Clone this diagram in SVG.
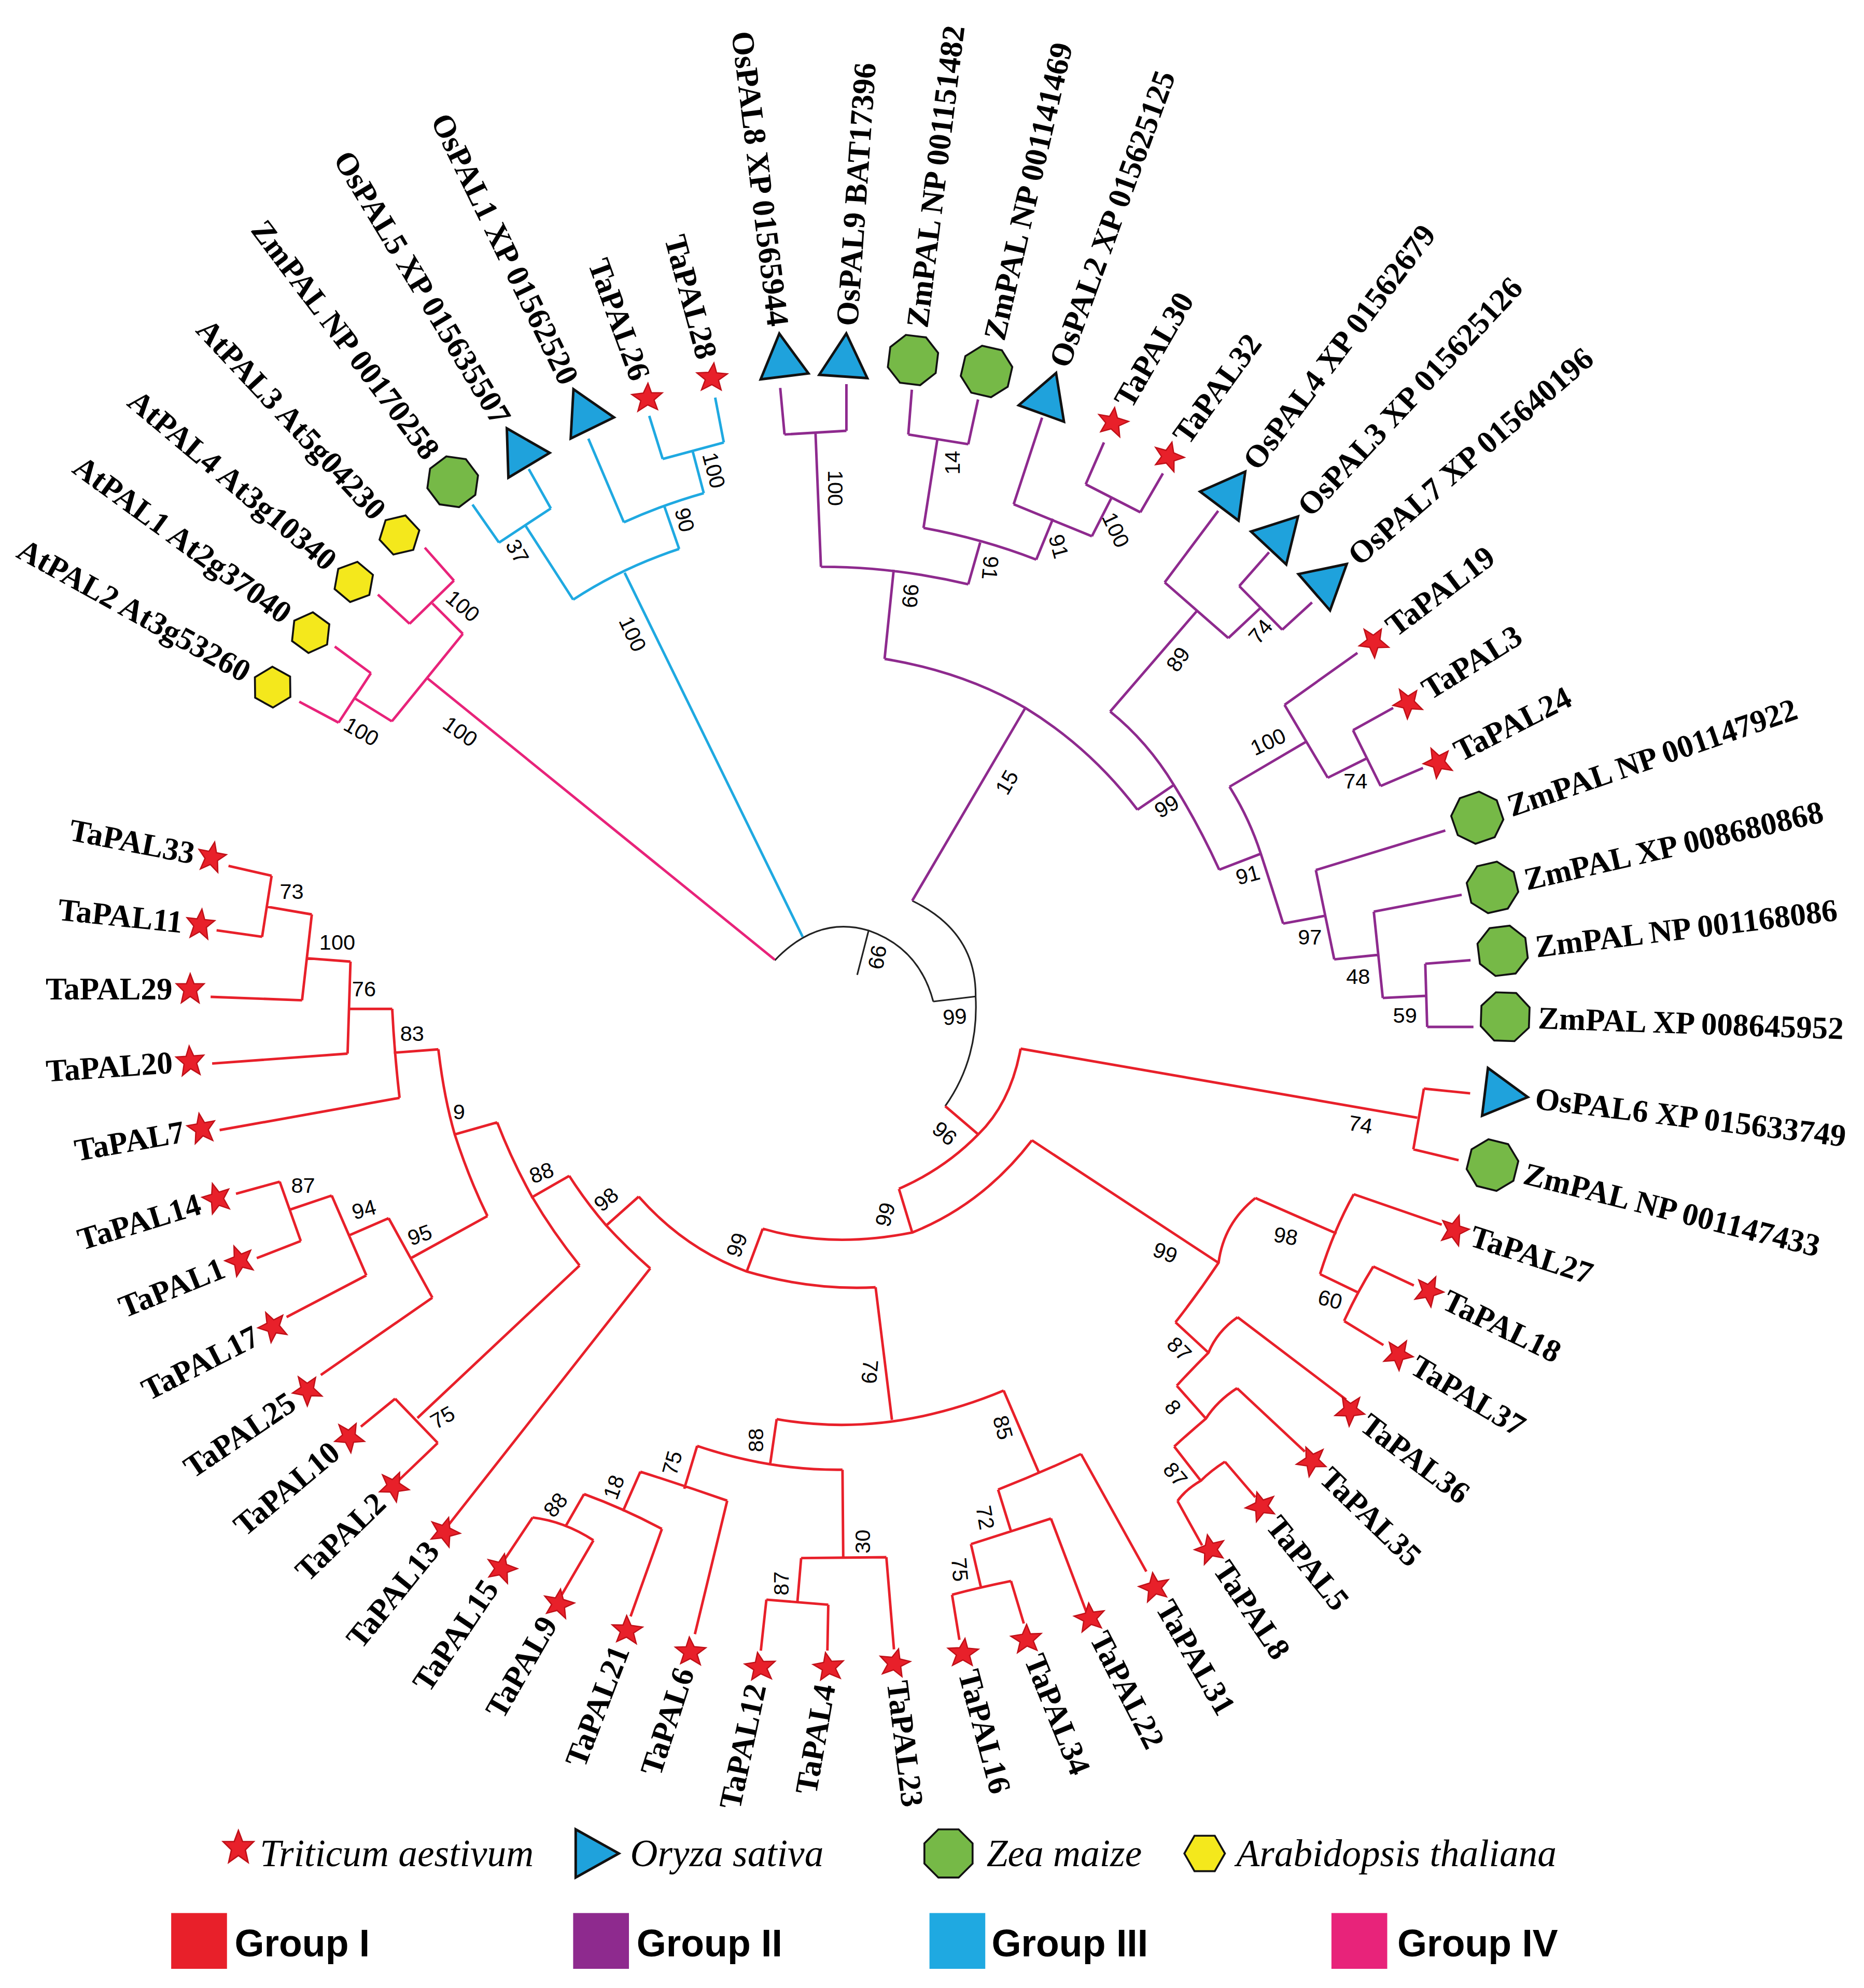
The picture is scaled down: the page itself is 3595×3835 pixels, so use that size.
<svg xmlns="http://www.w3.org/2000/svg" xmlns:xlink="http://www.w3.org/1999/xlink" width="3595" height="3835" viewBox="0 0 3595 3835">
<style>
.r{stroke:#e8202a}.p{stroke:#8e2a8e}.b{stroke:#1fa9e1}.k{stroke:#222;stroke-width:1.3!important}.m{stroke:#e8237a}
#edges path{fill:none;stroke-width:2}
.lf{font-family:"Liberation Serif",serif;font-weight:bold;font-size:25px;dominant-baseline:central}
.bs{font-family:"Liberation Sans",sans-serif;font-size:17px;text-anchor:middle;dominant-baseline:central}
.lg{font-family:"Liberation Serif",serif;font-style:italic;font-size:30px}
.gr{font-family:"Liberation Sans",sans-serif;font-weight:bold;font-size:30px}
</style>
<defs>
<polygon id="st" points="0,-12 3,-4 11,-4 5,2 7,11 0,6 -7,11 -5,2 -11,-4 -3,-4" fill="#e8202a" stroke="#c01018" stroke-width="1"/>
<polygon id="tr" points="20,0 -14,-19 -14,19" fill="#1fa2dc" stroke="#111" stroke-width="2"/>
<polygon id="oc" points="8,-19 19,-8 19,8 8,19 -8,19 -19,8 -19,-8 -8,-19" fill="#76b947" stroke="#111" stroke-width="1.5"/>
<polygon id="hx" points="16,0 8,-14 -8,-14 -16,0 -8,14 8,14" fill="#f4e81c" stroke="#111" stroke-width="1.5"/>
</defs>
<rect width="3595" height="3835" fill="#fff"/>
<g transform="scale(2.4456)">
<g id="edges">
<path class="k" d="M611,757.5 Q645,722 685,734 Q725,748 736,790 M685,734 L676,769 M736,790 L769.4,786 M719.4,710.5 Q770,735 769.4,786 Q772,835 745.4,872.5"/>
<path class="m" d="M611,757 L337,535 M309,569 L365,500 M365,500 L341,476 M323,492 L358,458 M323,492 L298,469 M358,458 L335,432 M309,569 L280,551 M267,570 L292.5,531 M267,570 L236,553.5 M292.5,531 L264,510"/>
<path class="b" d="M633,739 L492.6,451.8 M452,473 Q490,448 535.6,433 M452,473 L414,414 M393.5,428 L434.4,401 M393.5,428 L372.6,398 M434.4,401 L417,370 M535.6,433 L524,399.6 M492,412 Q523,398 555,389 M492,412 L464,346 M555,389 L546,355 M522.6,362 L570.8,349 M522.6,362 L512,328 M570.8,349 L564,313.6"/>
<path class="p" d="M719.4,710.5 L808.6,558.4 M697.6,519.7 Q760,530 808.6,558.4 Q860,590 897,638.7 M897,638.7 L925.7,619.2 M875.5,561.3 Q905,585 925.7,619.2 Q945,650 961.5,686 M875.5,561.3 L943.5,482.4 M918.5,459.4 L968.7,503.3 M918.5,459.4 L960.7,403 M968.7,503.3 L994,479.5 M977.3,462.3 L1011.2,496.7 M977.3,462.3 L1000.8,435.6 M1011.2,496.7 L1034.7,475.2 M961.5,686 L994.3,673.4 M969.6,620.6 Q985,645 994.3,673.4 Q1003,700 1011.9,728.5 M969.6,620.6 L1029.5,585.4 M1013,556 L1047.1,613.5 M1013,556 L1070.5,515 M1047.1,613.5 L1077.6,598.3 M1067,576 L1088.8,620 M1067,576 L1098.7,558.4 M1088.8,620 L1122.2,605.8 M1011.9,728.5 L1045.9,722.2 M1037.7,686.3 L1052.2,756.7 M1037.7,686.3 L1139.8,655.1 M1052.2,756.7 L1087,753.2 M1083.4,719.1 L1090.5,787.2 M1083.4,719.1 L1152.7,705.8 M1090.5,787.2 L1125,785.5 M1124,760.2 L1125.5,810 M1124,760.2 L1159.7,757.4 M1125.5,810 L1162,810 M697.6,519.7 L704.8,449.4 M647.4,447.1 Q705,447 763.6,460.9 M647.4,447.1 L643.1,341 M618.7,342.7 L667.5,339.8 M618.7,342.7 L615.3,306 M667.5,339.8 L667.5,303 M763.6,460.9 L773,427.9 M728.3,416.4 Q775,425 817.2,441.4 M728.3,416.4 L739.2,346.7 M716.3,342.7 L763.6,350.4 M716.3,342.7 L719.1,307.4 M763.6,350.4 L771.3,315.1 M817.2,441.4 L830.4,409.2 M799.4,397.8 L861.1,423 M799.4,397.8 L821.8,329.5 M861.1,423 L876.9,392 M856.2,382 L899.3,404.1 M856.2,382 L870.6,349 M899.3,404.1 L917.1,373.4"/>
<path class="r" d="M745.4,872.5 L771.5,894.8 M804.9,827.2 Q797,870 771.5,894.8 Q745,922 708.9,937.7 M804.9,827.2 L1117.7,881.6 M1122.9,858.7 L1114.6,906.6 M1122.9,858.7 L1159.4,862.4 M1114.6,906.6 L1150.3,915.2 M708.9,937.7 L719.4,972.2 M601.5,969.2 Q655,985 719.4,972.2 Q775,950 813.8,899.5 M813.8,899.5 L961.2,996.3 M601.5,969.2 L589,1002.7 M503.7,943.9 Q540,985 589,1003 Q640,1018 690.5,1015.4 M503.7,943.9 L478.1,966.7 M448.9,927.5 Q462,948 478.1,966.7 Q494,984 512.8,1000.5 M512.8,1000.5 L352,1205 M448.9,927.5 L418.8,944.8 M392.1,885.3 Q404,916 419.6,944 Q436,972 457.1,998.2 M457.1,998.2 L329.2,1118.5 M311.6,1103.3 L345.2,1138.2 M311.6,1103.3 L284.6,1125.3 M345.2,1138.2 L312,1170 M392.1,885.3 L358.6,894.8 M345.7,827.7 Q350,865 358.6,894.8 Q370,930 384.4,959.2 M384.4,959.2 L324.1,992.4 M306.5,960.9 L341,1023.6 M341,1023.6 L253,1084.6 M306.5,960.9 L275.2,974.5 M261.6,943 L288.9,1006 M288.9,1006 L226,1038.9 M261.6,943 L228.8,954.1 M220.6,932.1 L237.2,978.9 M220.6,932.1 L186.1,941.6 M237.2,978.9 L202.5,992.4 M345.7,827.7 L310.5,830.4 M309.3,795.8 Q311,830 315.1,866 M315.1,866 L173.2,891.4 M309.3,795.8 L274.8,795.8 M276.4,758.5 L274.1,831.1 M274.1,831.1 L167.3,838.9 M276.4,758.5 L241.2,755.8 M245.9,721.3 L238.2,789 M238.2,789 L166.1,786.3 M245.9,721.3 L210.7,715.2 M214.2,690.8 L206.7,738.9 M214.2,690.8 L180.2,683 M206.7,738.9 L170.8,733.8 M690.5,1015.4 L703.4,1119.9 M612.5,1119.4 Q700,1135 791.5,1096.9 M612.5,1119.4 L607.4,1154.6 M549.8,1140.5 Q607,1160 664.4,1159.3 M664.4,1159.3 L665,1229 M631.8,1229 L699,1228.3 M699,1228.3 L705,1301 M631.8,1229 L628.8,1264.2 M604.4,1261.8 L653.2,1265.8 M604.4,1261.8 L600,1302 M653.2,1265.8 L652.5,1302 M549.8,1140.5 L539.6,1174.3 M505,1160.9 Q540,1172 573.5,1183.7 M573.5,1183.7 L548,1289 M505,1160.9 L491.2,1192.1 M460.6,1178.5 Q492,1190 522,1206 M522,1206 L497.3,1275 M460.6,1178.5 L446,1204 M420,1197 Q445,1200 468,1215 M420,1197 L398,1230 M468,1215 L443,1258 M791.5,1096.9 L819.3,1161.6 M787.1,1175 Q820,1162 852.5,1146.9 M852.5,1146.9 L904,1239.6 M787.1,1175 L797.3,1207.9 M765.7,1218 Q797,1208 828.8,1197.8 M828.8,1197.8 L856.6,1271.2 M765.7,1218 L773.5,1251.7 M750.8,1257.9 Q773,1252 797.3,1247.1 M750.8,1257.9 L756.6,1293.5 M797.3,1247.1 L807.4,1280.6 M990,945 Q965,965 961,996 Q945,1020 927,1043 M990,945 L1054,973 M1067.6,942 Q1052,970 1041,1005 M1067.6,942 L1137,966 M1041,1005 L1072,1020 M1083,999 Q1070,1020 1060,1042 M1083,999 L1115,1014 M1060,1042 L1091,1061 M927,1043 L953,1067 M976,1039 Q960,1050 953,1067 Q940,1080 928,1093 M976,1039 L1061.6,1104 M928,1093 L951,1119 M975.6,1095 Q960,1105 951,1119 Q938,1130 926,1141 M975.6,1095 L1029,1145 M926,1141 L947,1168 M966,1153 Q955,1160 947,1168 Q935,1175 928.6,1184 M966,1153 L990,1181 M928.6,1184 L948,1219"/>
</g>
<g id="bootstrap">
<text class="bs" transform="translate(365,478) rotate(40)">100</text>
<text class="bs" transform="translate(285,577) rotate(30)">100</text>
<text class="bs" transform="translate(363,577) rotate(35)">100</text>
<text class="bs" transform="translate(408,435) rotate(60)">37</text>
<text class="bs" transform="translate(540,410) rotate(75)">90</text>
<text class="bs" transform="translate(563,371) rotate(75)">100</text>
<text class="bs" transform="translate(499,500) rotate(65)">100</text>
<text class="bs" transform="translate(659,385) rotate(90)">100</text>
<text class="bs" transform="translate(751,365) rotate(-90)">14</text>
<text class="bs" transform="translate(781,448) rotate(95)">91</text>
<text class="bs" transform="translate(835,431) rotate(75)">91</text>
<text class="bs" transform="translate(880,418) rotate(65)">100</text>
<text class="bs" transform="translate(718,470) rotate(95)">99</text>
<text class="bs" transform="translate(794,617) rotate(-60)">15</text>
<text class="bs" transform="translate(929,520) rotate(-55)">89</text>
<text class="bs" transform="translate(994,498) rotate(-50)">74</text>
<text class="bs" transform="translate(1000,585) rotate(-25)">100</text>
<text class="bs" transform="translate(1069,616)">74</text>
<text class="bs" transform="translate(920,636) rotate(-30)">99</text>
<text class="bs" transform="translate(984,690) rotate(-15)">91</text>
<text class="bs" transform="translate(1033,739)">97</text>
<text class="bs" transform="translate(1071,770)">48</text>
<text class="bs" transform="translate(1108,801)">59</text>
<text class="bs" transform="translate(692,755) rotate(100)">99</text>
<text class="bs" transform="translate(753,802) rotate(-5)">99</text>
<text class="bs" transform="translate(745,894) rotate(40)">96</text>
<text class="bs" transform="translate(1073,887) rotate(10)">74</text>
<text class="bs" transform="translate(698,958) rotate(-75)">99</text>
<text class="bs" transform="translate(581,982) rotate(-70)">99</text>
<text class="bs" transform="translate(919,988) rotate(20)">99</text>
<text class="bs" transform="translate(1014,975) rotate(10)">98</text>
<text class="bs" transform="translate(1049,1025) rotate(15)">60</text>
<text class="bs" transform="translate(930,1064) rotate(45)">87</text>
<text class="bs" transform="translate(925,1110) rotate(50)">8</text>
<text class="bs" transform="translate(927,1163) rotate(50)">87</text>
<text class="bs" transform="translate(686,1082) rotate(95)">79</text>
<text class="bs" transform="translate(596,1136) rotate(-90)">88</text>
<text class="bs" transform="translate(791,1126) rotate(75)">85</text>
<text class="bs" transform="translate(530,1154) rotate(-75)">75</text>
<text class="bs" transform="translate(484,1173) rotate(-70)">18</text>
<text class="bs" transform="translate(438,1187) rotate(-50)">88</text>
<text class="bs" transform="translate(680,1216) rotate(-90)">30</text>
<text class="bs" transform="translate(616,1249) rotate(-90)">87</text>
<text class="bs" transform="translate(777,1197) rotate(80)">72</text>
<text class="bs" transform="translate(757,1238) rotate(85)">75</text>
<text class="bs" transform="translate(478,946) rotate(-40)">98</text>
<text class="bs" transform="translate(427,925) rotate(-20)">88</text>
<text class="bs" transform="translate(362,877)">9</text>
<text class="bs" transform="translate(325,815)">83</text>
<text class="bs" transform="translate(287,780)">76</text>
<text class="bs" transform="translate(266,743)">100</text>
<text class="bs" transform="translate(230,703)">73</text>
<text class="bs" transform="translate(239,935)">87</text>
<text class="bs" transform="translate(287,954) rotate(-15)">94</text>
<text class="bs" transform="translate(331,974) rotate(-20)">95</text>
<text class="bs" transform="translate(349,1118) rotate(-30)">75</text>
</g>
<g id="leaves">
<g id="AtPAL2" transform="translate(215,542) rotate(29)"><use href="#hx"/><text class="lf" x="-22" text-anchor="end">AtPAL2 At3g53260</text></g>
<g id="AtPAL1" transform="translate(245,499) rotate(36)"><use href="#hx"/><text class="lf" x="-22" text-anchor="end">AtPAL1 At2g37040</text></g>
<g id="AtPAL4" transform="translate(279,459) rotate(40)"><use href="#hx"/><text class="lf" x="-22" text-anchor="end">AtPAL4 At3g10340</text></g>
<g id="AtPAL3" transform="translate(315,422) rotate(47)"><use href="#hx"/><text class="lf" x="-22" text-anchor="end">AtPAL3 At5g04230</text></g>
<g id="ZmPAL_170258" transform="translate(357,380) rotate(53)"><use href="#oc"/><text class="lf" x="-26" text-anchor="end">ZmPAL NP 00170258</text></g>
<g id="OsPAL5" transform="translate(410,355) rotate(59)"><use href="#tr" transform="rotate(180)"/><text class="lf" x="-26" text-anchor="end">OsPAL5 XP 015635507</text></g>
<g id="OsPAL1" transform="translate(461,325) rotate(64)"><use href="#tr" transform="rotate(180)"/><text class="lf" x="-26" text-anchor="end">OsPAL1 XP 01562520</text></g>
<g id="TaPAL26" transform="translate(511,314) rotate(70)"><use href="#st"/><text class="lf" x="-16" text-anchor="end">TaPAL26</text></g>
<g id="TaPAL28" transform="translate(562,298) rotate(75)"><use href="#st"/><text class="lf" x="-16" text-anchor="end">TaPAL28</text></g>
<g id="OsPAL8" transform="translate(617,283) rotate(83)"><use href="#tr" transform="rotate(180)"/><text class="lf" x="-26" text-anchor="end">OsPAL8 XP 01565944</text></g>
<g id="OsPAL9" transform="translate(666,283) rotate(-86)"><use href="#tr"/><text class="lf" x="26">OsPAL9 BAT17396</text></g>
<g id="ZmPAL_151482" transform="translate(720,284) rotate(-83)"><use href="#oc"/><text class="lf" x="26">ZmPAL NP 001151482</text></g>
<g id="ZmPAL_141469" transform="translate(778,293) rotate(-77)"><use href="#oc"/><text class="lf" x="26">ZmPAL NP 001141469</text></g>
<g id="OsPAL2" transform="translate(826,313) rotate(-70)"><use href="#tr"/><text class="lf" x="26">OsPAL2 XP 015625125</text></g>
<g id="TaPAL30" transform="translate(877,333) rotate(-60)"><use href="#st"/><text class="lf" x="16">TaPAL30</text></g>
<g id="TaPAL32" transform="translate(921,360) rotate(-54)"><use href="#st"/><text class="lf" x="16">TaPAL32</text></g>
<g id="OsPAL4" transform="translate(970,388) rotate(-53)"><use href="#tr"/><text class="lf" x="26">OsPAL4 XP 01562679</text></g>
<g id="OsPAL3" transform="translate(1010,422) rotate(-47)"><use href="#tr"/><text class="lf" x="26">OsPAL3 XP 015625126</text></g>
<g id="OsPAL7" transform="translate(1047,458) rotate(-41)"><use href="#tr"/><text class="lf" x="26">OsPAL7 XP 015640196</text></g>
<g id="TaPAL19" transform="translate(1083,506) rotate(-37)"><use href="#st"/><text class="lf" x="16">TaPAL19</text></g>
<g id="TaPAL3" transform="translate(1110,554) rotate(-32)"><use href="#st"/><text class="lf" x="16">TaPAL3</text></g>
<g id="TaPAL24" transform="translate(1134,601) rotate(-27)"><use href="#st"/><text class="lf" x="16">TaPAL24</text></g>
<g id="ZmPAL_147922" transform="translate(1165,645) rotate(-19)"><use href="#oc"/><text class="lf" x="26">ZmPAL NP 001147922</text></g>
<g id="ZmPAL_680868" transform="translate(1177,700) rotate(-13)"><use href="#oc"/><text class="lf" x="26">ZmPAL XP 008680868</text></g>
<g id="ZmPAL_168086" transform="translate(1185,750) rotate(-7)"><use href="#oc"/><text class="lf" x="26">ZmPAL NP 001168086</text></g>
<g id="ZmPAL_645952" transform="translate(1187,802) rotate(2)"><use href="#oc"/><text class="lf" x="26">ZmPAL XP 008645952</text></g>
<g id="OsPAL6" transform="translate(1185,863) rotate(7)"><use href="#tr"/><text class="lf" x="26">OsPAL6 XP 015633749</text></g>
<g id="ZmPAL_147433" transform="translate(1177,919) rotate(14)"><use href="#oc"/><text class="lf" x="26">ZmPAL NP 001147433</text></g>
<g id="TaPAL27" transform="translate(1147,970) rotate(18)"><use href="#st"/><text class="lf" x="14">TaPAL27</text></g>
<g id="TaPAL18" transform="translate(1127,1018) rotate(26)"><use href="#st"/><text class="lf" x="14">TaPAL18</text></g>
<g id="TaPAL37" transform="translate(1103,1068) rotate(31)"><use href="#st"/><text class="lf" x="14">TaPAL37</text></g>
<g id="TaPAL36" transform="translate(1065,1112) rotate(37)"><use href="#st"/><text class="lf" x="14">TaPAL36</text></g>
<g id="TaPAL35" transform="translate(1035,1152) rotate(44)"><use href="#st"/><text class="lf" x="14">TaPAL35</text></g>
<g id="TaPAL5" transform="translate(995,1188) rotate(51)"><use href="#st"/><text class="lf" x="14">TaPAL5</text></g>
<g id="TaPAL8" transform="translate(955,1222) rotate(56)"><use href="#st"/><text class="lf" x="14">TaPAL8</text></g>
<g id="TaPAL31" transform="translate(911,1252) rotate(60)"><use href="#st"/><text class="lf" x="14">TaPAL31</text></g>
<g id="TaPAL22" transform="translate(860,1276) rotate(63)"><use href="#st"/><text class="lf" x="14">TaPAL22</text></g>
<g id="TaPAL34" transform="translate(810,1293) rotate(68)"><use href="#st"/><text class="lf" x="14">TaPAL34</text></g>
<g id="TaPAL16" transform="translate(760,1304) rotate(75)"><use href="#st"/><text class="lf" x="14">TaPAL16</text></g>
<g id="TaPAL23" transform="translate(706,1312) rotate(83)"><use href="#st"/><text class="lf" x="14">TaPAL23</text></g>
<g id="TaPAL4" transform="translate(653,1315) rotate(-80)"><use href="#st"/><text class="lf" x="-14" text-anchor="end">TaPAL4</text></g>
<g id="TaPAL12" transform="translate(599,1315) rotate(-78)"><use href="#st"/><text class="lf" x="-14" text-anchor="end">TaPAL12</text></g>
<g id="TaPAL6" transform="translate(544,1303) rotate(-72)"><use href="#st"/><text class="lf" x="-14" text-anchor="end">TaPAL6</text></g>
<g id="TaPAL21" transform="translate(494,1286) rotate(-69)"><use href="#st"/><text class="lf" x="-14" text-anchor="end">TaPAL21</text></g>
<g id="TaPAL9" transform="translate(440,1265) rotate(-60)"><use href="#st"/><text class="lf" x="-14" text-anchor="end">TaPAL9</text></g>
<g id="TaPAL15" transform="translate(395,1237) rotate(-56)"><use href="#st"/><text class="lf" x="-14" text-anchor="end">TaPAL15</text></g>
<g id="TaPAL13" transform="translate(350,1208) rotate(-51)"><use href="#st"/><text class="lf" x="-14" text-anchor="end">TaPAL13</text></g>
<g id="TaPAL2" transform="translate(310,1172) rotate(-44)"><use href="#st"/><text class="lf" x="-14" text-anchor="end">TaPAL2</text></g>
<g id="TaPAL10" transform="translate(275,1133) rotate(-40)"><use href="#st"/><text class="lf" x="-14" text-anchor="end">TaPAL10</text></g>
<g id="TaPAL25" transform="translate(242,1096) rotate(-34)"><use href="#st"/><text class="lf" x="-14" text-anchor="end">TaPAL25</text></g>
<g id="TaPAL17" transform="translate(215,1046) rotate(-27)"><use href="#st"/><text class="lf" x="-14" text-anchor="end">TaPAL17</text></g>
<g id="TaPAL1" transform="translate(189,994) rotate(-22)"><use href="#st"/><text class="lf" x="-14" text-anchor="end">TaPAL1</text></g>
<g id="TaPAL14" transform="translate(171,945) rotate(-17)"><use href="#st"/><text class="lf" x="-14" text-anchor="end">TaPAL14</text></g>
<g id="TaPAL7" transform="translate(159,890) rotate(-10)"><use href="#st"/><text class="lf" x="-14" text-anchor="end">TaPAL7</text></g>
<g id="TaPAL20" transform="translate(150,837) rotate(-4)"><use href="#st"/><text class="lf" x="-14" text-anchor="end">TaPAL20</text></g>
<g id="TaPAL29" transform="translate(150,780)"><use href="#st"/><text class="lf" x="-14" text-anchor="end">TaPAL29</text></g>
<g id="TaPAL11" transform="translate(158,729) rotate(6)"><use href="#st"/><text class="lf" x="-14" text-anchor="end">TaPAL11</text></g>
<g id="TaPAL33" transform="translate(167,676) rotate(11)"><use href="#st"/><text class="lf" x="-14" text-anchor="end">TaPAL33</text></g>
</g>
<g id="legend">
<use href="#st" transform="translate(188,1457) scale(1.1)"/>
<text class="lg" x="205" y="1472">Triticum aestivum</text>
<use href="#tr" transform="translate(468,1462)"/>
<text class="lg" x="497" y="1472">Oryza sativa</text>
<use href="#oc" transform="translate(748,1462)"/>
<text class="lg" x="778" y="1472">Zea maize</text>
<use href="#hx" transform="translate(950,1462)"/>
<text class="lg" x="975" y="1472">Arabidopsis thaliana</text>
<rect x="135" y="1509" width="44" height="44" fill="#e8202a"/>
<text class="gr" x="185" y="1543">Group I</text>
<rect x="452" y="1509" width="44" height="44" fill="#8e2a8e"/>
<text class="gr" x="502" y="1543">Group II</text>
<rect x="733" y="1509" width="44" height="44" fill="#1fa9e1"/>
<text class="gr" x="782" y="1543">Group III</text>
<rect x="1050" y="1509" width="44" height="44" fill="#e8237a"/>
<text class="gr" x="1102" y="1543">Group IV</text>
</g>
</g>
</svg>
